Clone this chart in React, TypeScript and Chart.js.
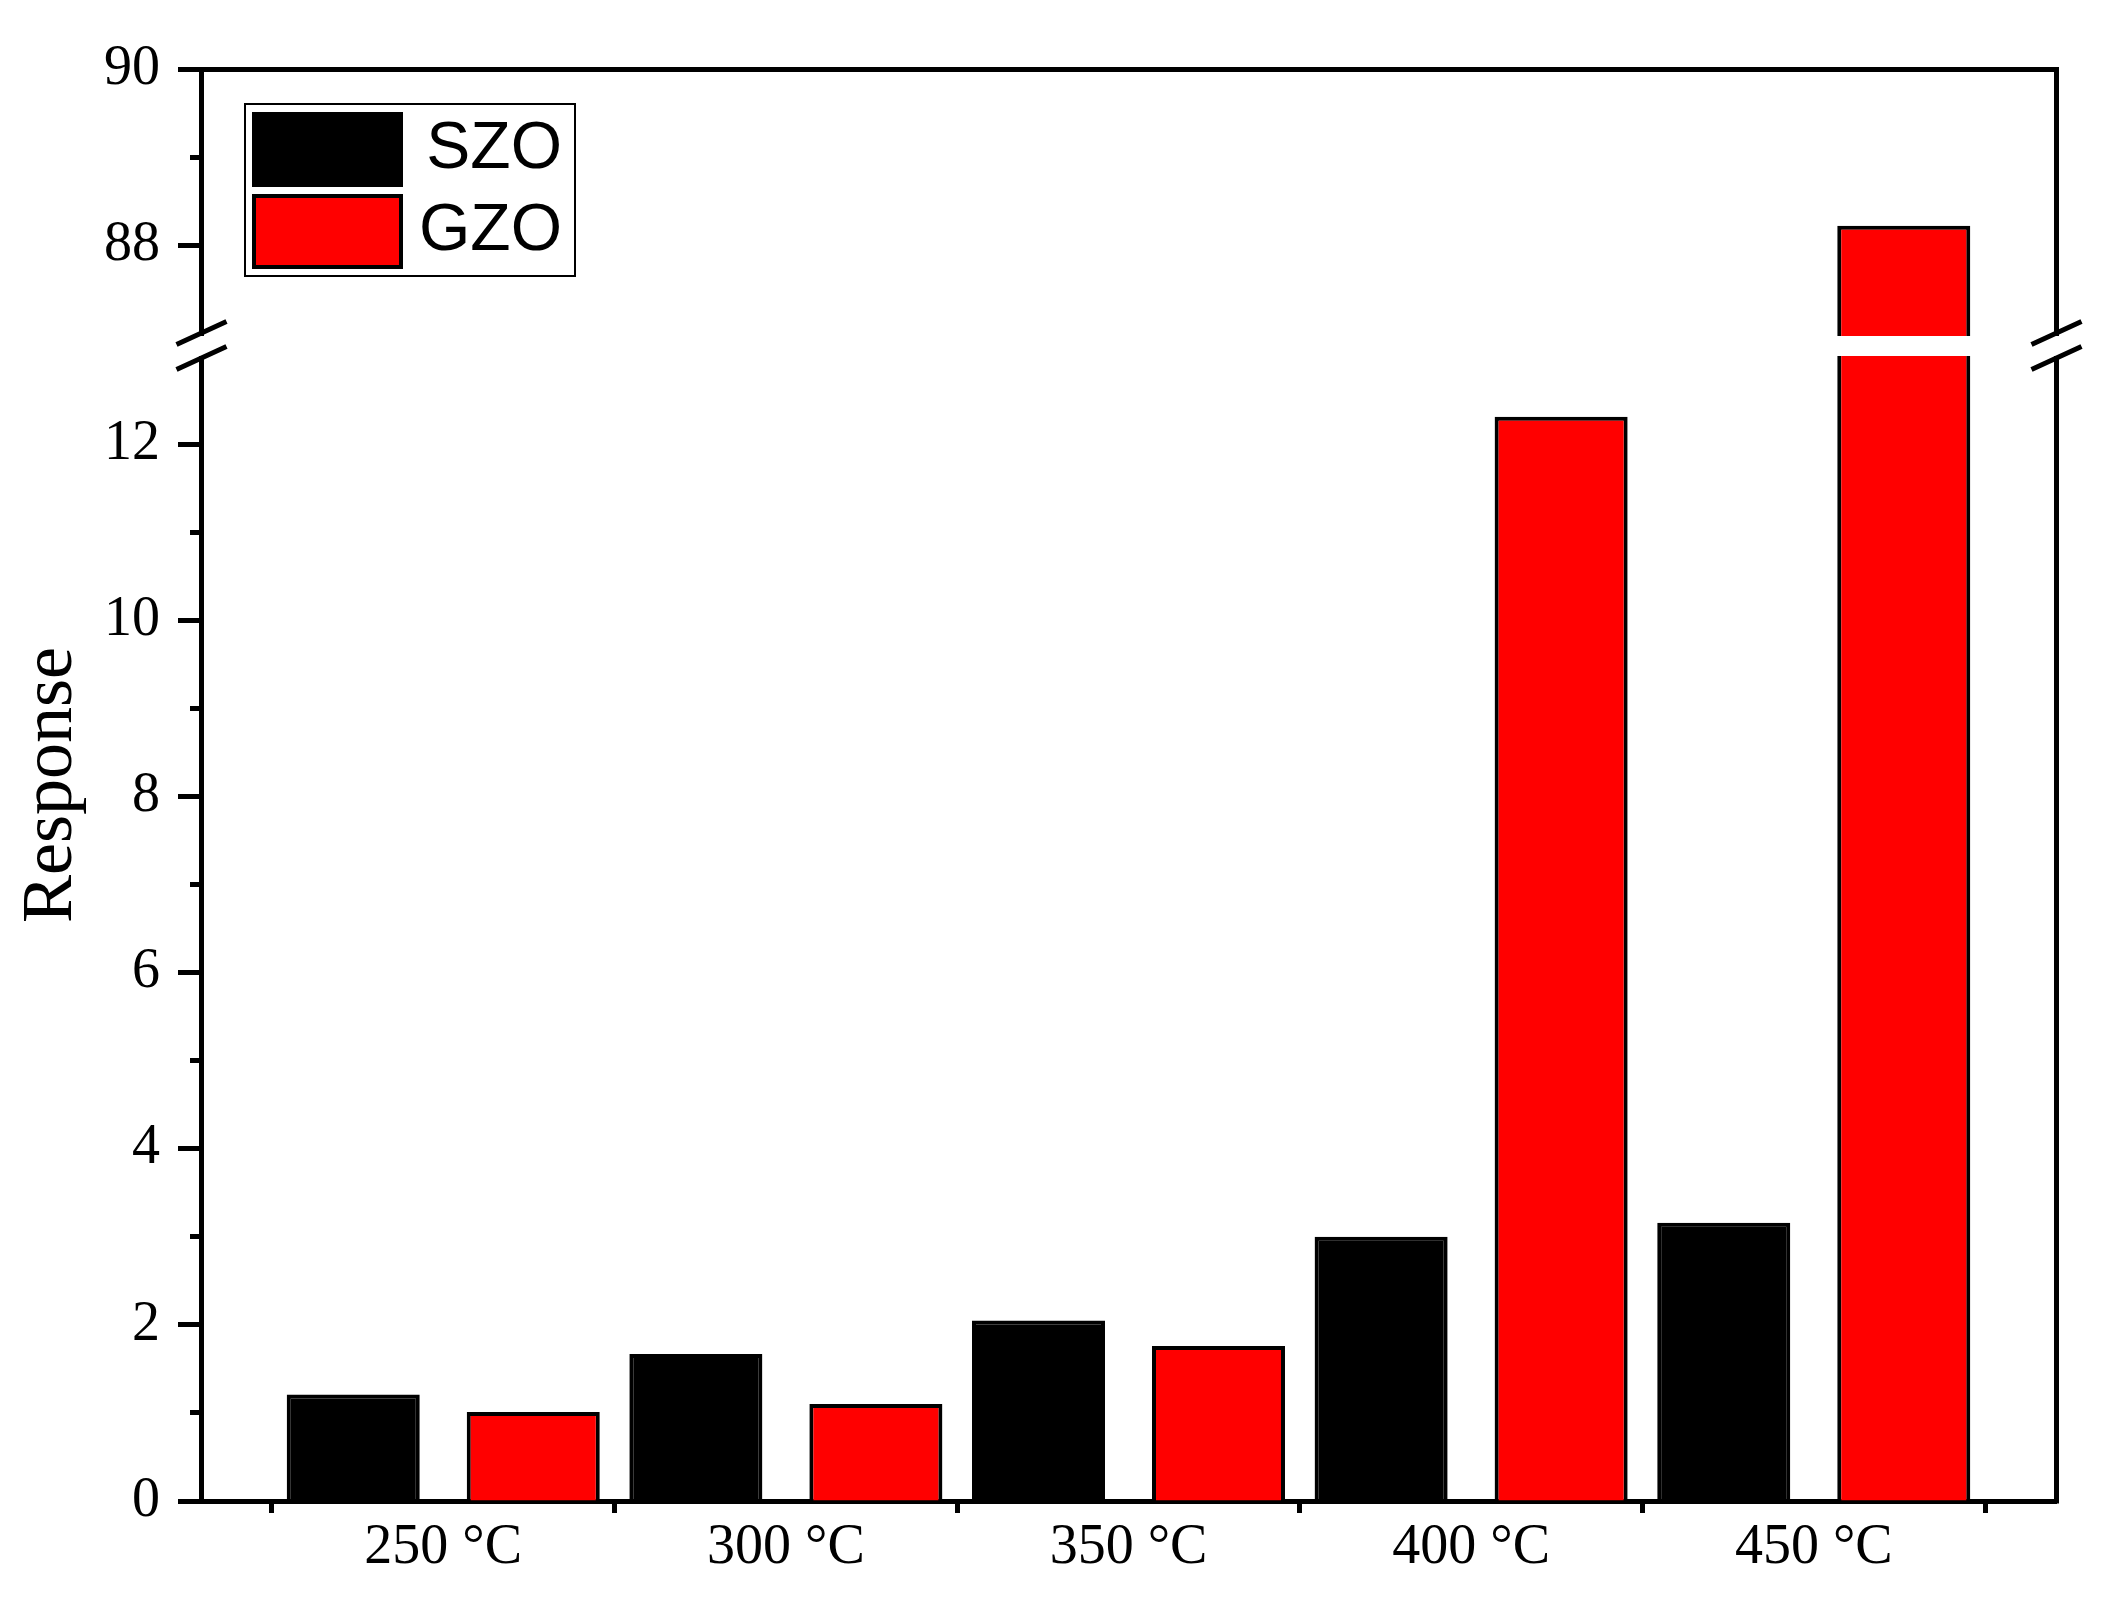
import React, { useEffect, useRef } from 'react';
import { Chart, registerables } from 'chart.js';

Chart.register(...registerables);

// ---- data ----
const CATEGORIES = ['250 °C', '300 °C', '350 °C', '400 °C', '450 °C'];
const X_POSITIONS = [0, 1, 2, 3, 4];
const SZO_VALUES = [1.21, 1.67, 2.05, 3.0, 3.16];
const GZO_VALUES = [1.01, 1.1, 1.76, 12.31, 88.22];
const LOW_TICKS = [0, 1, 2, 3, 4, 5, 6, 7, 8, 9, 10, 11, 12];
const HIGH_TICKS = [88, 89, 90];
const LOW_SEGMENT = [0, 13];
const HIGH_SEGMENT = [86.97, 90];
const BREAK_GAP = 0.227; // extra lower-axis room used for the break gap
const X_RANGE = [-0.707, 4.707];

const SERIF = 'Liberation Serif';
const SANS = 'Liberation Sans';

const axisBreakPlugin = {
  id: 'axisBreak',
  beforeDraw(chart: any) {
    const lg = chart.legend;
    const ca = chart.chartArea;
    if (lg) {
      lg.left = ca.left + 42;
      lg.top = ca.top + 34;
      lg.right = ca.left + 361;
    }
  },
  beforeDatasetDraw(chart: any, args: any) {
    const scale = chart.scales[args.meta.yAxisID];
    const { ctx, chartArea } = chart;
    ctx.save();
    ctx.beginPath();
    ctx.rect(chartArea.left - 10, scale.top, chartArea.right - chartArea.left + 20, scale.bottom - scale.top);
    ctx.clip();
  },
  afterDatasetDraw(chart: any) {
    chart.ctx.restore();
  },
  afterDraw(chart: any) {
    const { ctx, chartArea: ca } = chart;
    const yLow = chart.scales.yLow;
    const gapTop = yLow.top;
    const gapBottom = yLow.getPixelForValue(LOW_SEGMENT[1]);
    const lw = 5;
    const topY = Math.round(ca.top - lw / 2) + lw / 2;
    const rightX = Math.round(ca.right - lw / 2) + lw / 2;
    const leftX = Math.round(ca.left - lw / 2) + lw / 2;
    ctx.save();
    ctx.strokeStyle = '#000';
    ctx.lineWidth = lw;
    ctx.lineCap = 'butt';
    ctx.beginPath();
    ctx.moveTo(ca.left - lw / 2, topY);
    ctx.lineTo(rightX + lw / 2, topY);
    ctx.moveTo(rightX, topY - lw / 2);
    ctx.lineTo(rightX, ca.bottom + lw / 2);
    ctx.stroke();
    // break gap
    ctx.fillStyle = '#fff';
    ctx.fillRect(ca.left - 6, gapTop, ca.right - ca.left + 12, gapBottom - gapTop);
    // slashes
    ctx.beginPath();
    for (const x of [leftX, rightX]) {
      for (const y of [gapTop - 3, gapBottom + 2]) {
        ctx.moveTo(x - 25, y + 11.5);
        ctx.lineTo(x + 25, y - 11.5);
      }
    }
    ctx.stroke();
    // legend frame
    const lg = chart.legend;
    if (lg) {
      ctx.lineWidth = 2;
      ctx.strokeRect(lg.left + 2, lg.top + 1, 330, 172);
    }
    ctx.restore();
  },
};

const tickFont = { family: SERIF, size: 56 };

const minorDash = (c: any) => (c.tick && c.tick.value % 2 !== 0 ? [100, 12] : []);
const minorDashOffset = (c: any) => (c.tick && c.tick.value % 2 !== 0 ? 100 : 0);
const evenLabel = (v: any) => (Number(v) % 2 === 0 ? String(v) : '');

export default function App() {
  const ref = useRef<HTMLCanvasElement>(null);

  useEffect(() => {
    const canvas = ref.current;
    if (!canvas) return;

    const barStyle = {
      borderColor: '#000000',
      borderWidth: 4,
      categoryPercentage: 1.0508,
      barPercentage: 0.739,
    };

    const chart = new Chart(canvas, {
      type: 'bar',
      data: {
        labels: X_POSITIONS,
        datasets: [
          { label: 'SZO', data: SZO_VALUES, yAxisID: 'yLow', stack: 'szo', backgroundColor: '#000000', ...barStyle },
          { label: 'GZO', data: GZO_VALUES, yAxisID: 'yLow', stack: 'gzo', backgroundColor: '#ff0000', ...barStyle },
          { label: 'GZO', data: GZO_VALUES, yAxisID: 'yHigh', stack: 'gzo', backgroundColor: '#ff0000', ...barStyle },
        ],
      },
      options: {
        responsive: false,
        animation: false,
        devicePixelRatio: 1,
        events: [],
        layout: { padding: { top: 69, right: 48, bottom: 0, left: 0 } },
        plugins: {
          tooltip: { enabled: false },
          title: { display: false },
          legend: {
            display: true,
            position: 'chartArea',
            align: 'start',
            labels: {
              boxWidth: 147,
              boxHeight: 71,
              padding: 11,
              color: '#000',
              textAlign: 'right',
              font: { family: SANS, size: 66 },
              filter: (item: any) => item.datasetIndex < 2,
            },
          },
        },
        scales: {
          x: {
            type: 'linear',
            min: X_RANGE[0],
            max: X_RANGE[1],
            offset: false,
            z: 1,
            afterBuildTicks: (s: any) => {
              s.ticks = X_POSITIONS.map((v) => ({ value: v }));
            },
            afterFit: (s: any) => {
              s.height = 100;
            },
            ticks: {
              callback: (v: any) => CATEGORIES[v] ?? '',
              font: tickFont,
              color: '#000',
              padding: 2,
              autoSkip: false,
              maxRotation: 0,
              minRotation: 0,
            },
            grid: {
              display: true,
              offset: true,
              drawOnChartArea: false,
              drawTicks: true,
              tickLength: 12,
              tickWidth: 5,
              tickColor: '#000',
            },
            border: { display: true, color: '#000', width: 5 },
          },
          yTitle: {
            type: 'linear',
            position: 'left',
            weight: 3,
            afterFit: (s: any) => {
              s.width = 100;
            },
            ticks: { display: false },
            grid: { display: false },
            border: { display: false },
            title: {
              display: true,
              text: 'Response',
              color: '#000',
              font: { family: SERIF, size: 72 },
              padding: { top: 9, bottom: 0 },
            },
          },
          yHigh: {
            type: 'linear',
            position: 'left',
            stack: 'v',
            stackWeight: 267,
            weight: 2,
            stacked: false,
            min: HIGH_SEGMENT[0],
            max: HIGH_SEGMENT[1],
            afterBuildTicks: (s: any) => {
              s.ticks = HIGH_TICKS.map((v) => ({ value: v }));
            },
            afterFit: (s: any) => {
              s.width = 101;
            },
            ticks: { callback: evenLabel, font: tickFont, color: '#000', padding: 18, autoSkip: false },
            grid: {
              display: true,
              drawOnChartArea: false,
              tickLength: 23,
              tickWidth: 5,
              tickColor: '#000',
              tickBorderDash: minorDash,
              tickBorderDashOffset: minorDashOffset,
            },
            border: { display: true, color: '#000', width: 5 },
            title: { display: false },
          },
          yLow: {
            type: 'linear',
            position: 'left',
            stack: 'v',
            stackWeight: 1165,
            weight: 1,
            stacked: false,
            min: LOW_SEGMENT[0],
            max: LOW_SEGMENT[1] + BREAK_GAP,
            afterBuildTicks: (s: any) => {
              s.ticks = LOW_TICKS.map((v) => ({ value: v }));
            },
            afterFit: (s: any) => {
              s.width = 101;
            },
            ticks: { callback: evenLabel, font: tickFont, color: '#000', padding: 18, autoSkip: false },
            grid: {
              display: true,
              drawOnChartArea: false,
              tickLength: 23,
              tickWidth: 5,
              tickColor: '#000',
              tickBorderDash: minorDash,
              tickBorderDashOffset: minorDashOffset,
            },
            border: { display: true, color: '#000', width: 5 },
            title: { display: false },
          },
        },
      } as any,
      plugins: [axisBreakPlugin],
    });

    return () => chart.destroy();
  }, []);

  return (
    <div style={{ position: 'absolute', left: 0, top: 0, width: 2104, height: 1601, background: '#ffffff' }}>
      <canvas ref={ref} width={2104} height={1601} style={{ display: 'block', width: 2104, height: 1601 }} />
    </div>
  );
}
